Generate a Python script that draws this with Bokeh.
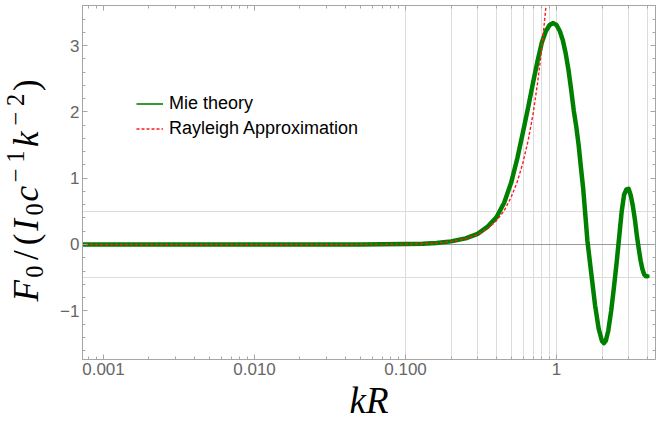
from bokeh.plotting import figure
from bokeh.layouts import row
from bokeh.models import (Range1d, LogAxis, LinearAxis, FixedTicker, Span, Legend,
                          LegendItem, CustomJSTickFormatter, SingleIntervalTicker, Div)
from bokeh.embed import file_html
from bokeh.resources import INLINE

# ---- data ----
kr_mie = [0.0007, 0.001, 0.003, 0.01, 0.03, 0.05, 0.07, 0.1, 0.13, 0.16, 0.2, 0.25,
          0.3, 0.35, 0.4, 0.45, 0.5, 0.55, 0.6, 0.65, 0.7, 0.75, 0.8, 0.85, 0.9, 0.95,
          1.0, 1.05, 1.1, 1.15, 1.2, 1.25, 1.3, 1.35, 1.4, 1.45, 1.5, 1.55, 1.6, 1.65,
          1.7, 1.8, 1.9, 2.0, 2.06, 2.12, 2.2, 2.3, 2.4, 2.5, 2.6, 2.7, 2.8, 2.9, 3.0,
          3.1, 3.2, 3.3, 3.4, 3.5, 3.6, 3.7, 3.8, 3.9, 4.0]
f_mie = [0.0, 0.0, 0.0, 0.0, 0.0, 0.001, 0.002, 0.006, 0.012, 0.024, 0.047, 0.092,
         0.16, 0.27, 0.41, 0.63, 0.93, 1.30, 1.70, 2.08, 2.45, 2.78, 3.05, 3.22, 3.31, 3.34,
         3.31, 3.22, 3.08, 2.88, 2.63, 2.33, 2.02, 1.78, 1.50, 1.16, 0.85, 0.45, 0.06, -0.20,
         -0.45, -0.92, -1.27, -1.46, -1.49, -1.45, -1.30, -1.00, -0.64, -0.27, 0.12, 0.50, 0.75, 0.83, 0.84,
         0.74, 0.58, 0.38, 0.14, -0.06, -0.24, -0.37, -0.45, -0.48, -0.48]

kr_ray = [0.0007, 0.001, 0.01, 0.03, 0.05, 0.07, 0.1, 0.13, 0.16, 0.2, 0.25, 0.3, 0.35,
          0.4, 0.45, 0.5, 0.55, 0.6, 0.65, 0.7, 0.75, 0.8, 0.85, 0.87]
f_ray = [0.0, 0.0, 0.0, 0.0, 0.001, 0.002, 0.006, 0.012, 0.022, 0.045, 0.088, 0.152, 0.24,
         0.36, 0.51, 0.71, 0.95, 1.24, 1.58, 1.98, 2.45, 2.98, 3.58, 3.85]

x_major = [0.001, 0.01, 0.1, 1]
x_major_labels = ["0.001", "0.010", "0.100", "1"]
x_minor = [m * d for d in [0.0001, 0.001, 0.01, 0.1, 1] for m in range(2, 10)]
x_grid = [0.1, 0.2, 0.3, 0.4, 0.5, 0.6, 0.7, 0.8, 0.9, 1, 2, 3, 4]
y_grid = [-0.5, 0.5]

series_names = ["Mie theory", "Rayleigh Approximation"]
x_title = "kR"
# y title F_0/(I_0 c^{-1} k^{-2}) as (text, kind)
y_title = [("F", "it"), ("0", "sub"), ("/", "rm"), ("(", "rm"), ("I", "it"), ("0", "sub"),
           ("c", "it"), ("\u2212", "sup"), ("1", "sup"), ("k", "it"), ("\u2212", "sup"),
           ("2", "sup"), (")", "rm")]

GREEN = "#008000"
RED = "#ff1a1a"
FRAME = "#a6a6a6"
TICKLBL = "#666666"

W, H = 656, 427
DIV_W = 56
FL, FT, FR, FB = 82 - DIV_W, 5, 1, 68

p = figure(width=W - DIV_W, height=H, x_axis_type="log",
           x_range=Range1d(0.000726, 4.52), y_range=Range1d(-1.735, 3.605),
           output_backend="svg", toolbar_location=None,
           min_border_left=FL, min_border_right=FR, min_border_top=FT, min_border_bottom=FB)

p.outline_line_color = FRAME
p.background_fill_color = "white"

# grids
p.xgrid.ticker = FixedTicker(ticks=x_grid)
p.xgrid.grid_line_color = "#dcdcdc"
p.ygrid.ticker = FixedTicker(ticks=y_grid)
p.ygrid.grid_line_color = "#dcdcdc"
p.add_layout(Span(location=0, dimension="width", line_color="#9a9a9a", line_width=1.2,
                  level="underlay"))

# axes
xa = p.xaxis[0]
xa.ticker = FixedTicker(ticks=x_major, minor_ticks=x_minor)
xa.major_label_overrides = {t: l for t, l in zip(x_major, x_major_labels)}
ya = p.yaxis[0]
ya.ticker = SingleIntervalTicker(interval=1, num_minor_ticks=5)

for ax in (xa, ya):
    ax.axis_line_color = FRAME
    ax.major_tick_line_color = FRAME
    ax.minor_tick_line_color = FRAME
    ax.major_tick_in = 5
    ax.major_tick_out = 0
    ax.minor_tick_in = 3
    ax.minor_tick_out = 0
    ax.major_label_text_font = "Liberation Sans"
    ax.major_label_text_font_size = "17px"
    ax.major_label_text_color = TICKLBL
    ax.major_label_standoff = 3

xa.axis_label = x_title
xa.axis_label_text_font = "Liberation Serif"
xa.axis_label_text_font_style = "italic"
xa.axis_label_text_font_size = "37px"
xa.axis_label_text_color = "black"
xa.axis_label_standoff = 2

empty = CustomJSTickFormatter(code="return ''")
top = LogAxis(ticker=FixedTicker(ticks=x_major, minor_ticks=x_minor), formatter=empty)
right = LinearAxis(ticker=SingleIntervalTicker(interval=1, num_minor_ticks=5), formatter=empty)
for ax in (top, right):
    ax.axis_line_color = FRAME
    ax.major_tick_line_color = FRAME
    ax.minor_tick_line_color = FRAME
    ax.major_tick_in = 5
    ax.major_tick_out = 0
    ax.minor_tick_in = 3
    ax.minor_tick_out = 0
    ax.major_label_standoff = 0
    ax.major_label_text_font_size = "1px"
p.add_layout(top, "above")
p.add_layout(right, "right")

# curves
leg_g = p.line(kr_mie, f_mie, line_color=GREEN, line_width=1.6)
p.line(kr_mie, f_mie, line_color=GREEN, line_width=4.5, line_cap="round", line_join="round")
leg_r = p.line(kr_ray, f_ray, line_color=RED, line_width=1.4, line_dash="3 2")

legend = Legend(items=[LegendItem(label=series_names[0], renderers=[leg_g]),
                       LegendItem(label=series_names[1], renderers=[leg_r])],
                location=(54, 218), border_line_color=None, background_fill_alpha=0,
                label_text_font="Liberation Sans", label_text_font_size="18px",
                label_text_color="black", glyph_width=27, glyph_height=25,
                label_height=25, label_standoff=6, spacing=0, padding=0, margin=0)
p.add_layout(legend)

# ---- rotated, TeX-like y title in a Div to the left of the plot ----
MAIN, SCRIPT = 35, 24.5
adv = {"F": 22.5, "I": 15.4, "c": 15.2, "k": 19.2, "/": 17.5, "(": 13.6, ")": 13.6,
       "0": 15.75, "1": 15.65, "2": 15.65, "\u2212": 21.9}
spans = []
for txt, kind in y_title:
    st = f"display:inline-block;width:{adv[txt]}px;text-align:center;"
    if kind == "it":
        st += "font-style:italic;"
    elif kind == "sub":
        st += f"font-size:{SCRIPT}px;position:relative;top:5.3px;"
    elif kind == "sup":
        st += f"font-size:{SCRIPT}px;position:relative;top:-14.5px;"
    spans.append(f'<span style="{st}">{txt}</span>')
inner = "".join(spans)
html = (f'<div style="position:relative;width:{DIV_W}px;height:{H}px;">'
        f'<div style="position:absolute;left:9.2px;top:302px;transform:rotate(-90deg);'
        f'transform-origin:0 0;white-space:nowrap;font-family:\'Liberation Serif\';'
        f'font-size:{MAIN}px;line-height:{MAIN}px;color:#000;margin:0;padding:0;">'
        f'{inner}</div></div>')
ylab = Div(text=html, width=DIV_W, height=H, margin=0)

layout = row(ylab, p, spacing=0)
open("out.html", "w").write(file_html(layout, INLINE))
